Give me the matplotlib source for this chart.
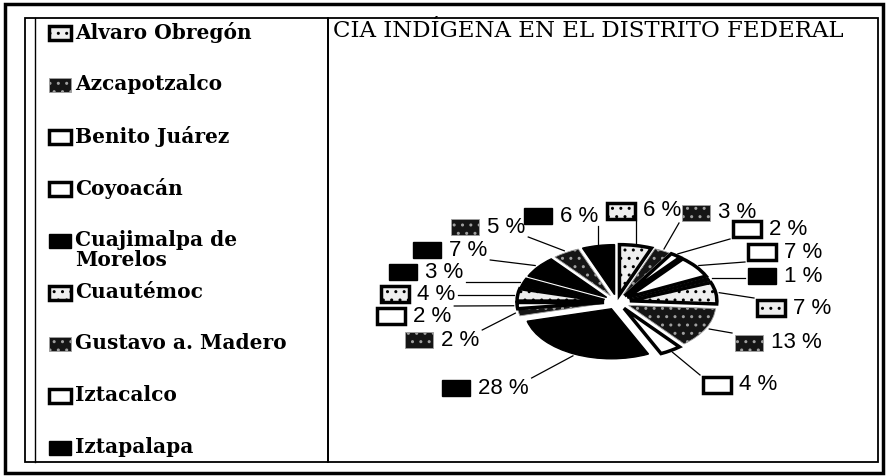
import numpy as np
import matplotlib
matplotlib.use("Agg")
import matplotlib.pyplot as plt
from matplotlib.patches import Rectangle
from matplotlib.lines import Line2D
from matplotlib.transforms import Affine2D

# datos: delegaciones del D.F. y porcentaje de población indígena
delegaciones = ["Alvaro Obregón", "Azcapotzalco", "Benito Juárez", "Coyoacán",
                "Cuajimalpa de\nMorelos", "Cuautémoc", "Gustavo a. Madero",
                "Iztacalco", "Iztapalapa", "Magdalena Contreras", "Miguel Hidalgo",
                "Milpa Alta", "Tláhuac", "Tlalpan", "Venustiano Carranza", "Xochimilco"]
porcentajes = [6, 3, 2, 7, 1, 7, 13, 4, 28, 2, 2, 4, 3, 7, 5, 6]
rellenos = ["claro", "oscuro", "blanco", "blanco", "negro", "claro", "oscuro",
            "blanco", "negro", "oscuro", "blanco", "claro", "negro", "negro",
            "oscuro", "negro"]
titulo = "CIA INDÍGENA EN EL DISTRITO FEDERAL"
n_leyenda = 9  # sólo caben 9 en el panel

# posiciones de las etiquetas (px: borde izq. del cuadro, centro vertical)
pos_etiquetas = [(607, 211), (682, 213), (733, 229), (748, 252), (748, 276),
                 (757, 308), (735, 343), (703, 385), (442, 388), (405, 340),
                 (377, 316), (381, 294), (389, 272), (413, 250), (451, 227),
                 (524, 216)]

W, H = 888, 476
fig = plt.figure(figsize=(W / 100, H / 100), dpi=100)
pix = Affine2D().scale(1 / W, -1 / H).translate(0, 1) + fig.transFigure


def estilo(tipo):
    if tipo == "negro":
        return dict(facecolor="black", edgecolor="black", linewidth=1)
    if tipo == "blanco":
        return dict(facecolor="white", edgecolor="black", linewidth=2.5)
    if tipo == "claro":
        return dict(facecolor="#eeeeee", edgecolor="black", linewidth=2.5, hatch="..")
    return dict(facecolor="#151515", edgecolor="#a0a0a0", linewidth=0.6, hatch="..")


def cuadro(x, yc, w, h, tipo):
    st = estilo(tipo)
    r = Rectangle((x, yc - h / 2), w, h, transform=pix, **st)
    fig.add_artist(r)


# marcos
fig.add_artist(Rectangle((5, 4), 878, 469, transform=pix, fill=False,
                         edgecolor="black", linewidth=2.5))
fig.add_artist(Rectangle((25, 18), 303, 444, transform=pix, fill=False,
                         edgecolor="black", linewidth=1.3))
fig.add_artist(Line2D([35, 35], [18, 462], transform=pix, color="black", lw=1.0))
fig.add_artist(Rectangle((328, 18), 550, 444, transform=pix, fill=False,
                         edgecolor="black", linewidth=1.3))

# leyenda
for i in range(n_leyenda):
    yc = 33 + i * 51.9
    cuadro(49, yc, 22, 14, rellenos[i])
    fig.text(75 / W, 1 - (yc - 11) / H, delegaciones[i], ha="left", va="top",
             fontsize=14.5, fontweight="bold", family="DejaVu Serif",
             linespacing=1.0)

# título
fig.text(333 / W, 1 - 31 / H, titulo, ha="left", va="center", fontsize=16.5,
         family="DejaVu Serif")

# pastel (elipse)
cx, cy = 617, 302      # centro en px
ux, uy = 87, 50        # px por unidad
x0, x1, y0, y1 = 328, 878, 18, 462
ax = fig.add_axes([x0 / W, 1 - y1 / H, (x1 - x0) / W, (y1 - y0) / H])
expl = 0.15
wedges, _ = ax.pie(porcentajes, explode=[expl] * len(porcentajes), startangle=90,
                   counterclock=False, radius=1)
for w, t in zip(wedges, rellenos):
    st = estilo(t)
    w.set_facecolor(st["facecolor"])
    w.set_edgecolor(st["edgecolor"])
    w.set_linewidth(st["linewidth"])
    if "hatch" in st:
        w.set_hatch(st["hatch"])
ax.set_aspect("auto")
ax.set_xlim(-(cx - x0) / ux, (x1 - cx) / ux)
ax.set_ylim(-(y1 - cy) / uy, (cy - y0) / uy)
ax.axis("off")

# etiquetas con líneas guía
renderer = fig.canvas.get_renderer()
acum = np.cumsum([0] + porcentajes[:-1])
for v, c, t, (lx, ly) in zip(porcentajes, acum, rellenos, pos_etiquetas):
    cuadro(lx, ly, 28, 16, t)
    txt = fig.text((lx + 36) / W, 1 - ly / H, f"{v} %", ha="left", va="center",
                   fontsize=16, family="Liberation Sans")
    bb = txt.get_window_extent(renderer)
    bx0, bx1 = lx - 3, bb.x1 + 3
    by0, by1 = ly - 10, ly + 10
    ang = np.deg2rad(90 - 360 * (c + v / 2) / 100)
    r = 1 + expl + 0.04
    ex = cx + r * np.cos(ang) * ux
    ey = cy - r * np.sin(ang) * uy
    px = min(max(ex, bx0), bx1)
    py = min(max(ey, by0), by1)
    fig.add_artist(Line2D([ex, px], [ey, py], transform=pix, color="black", lw=0.9))

fig.savefig("out.png", dpi=100)
